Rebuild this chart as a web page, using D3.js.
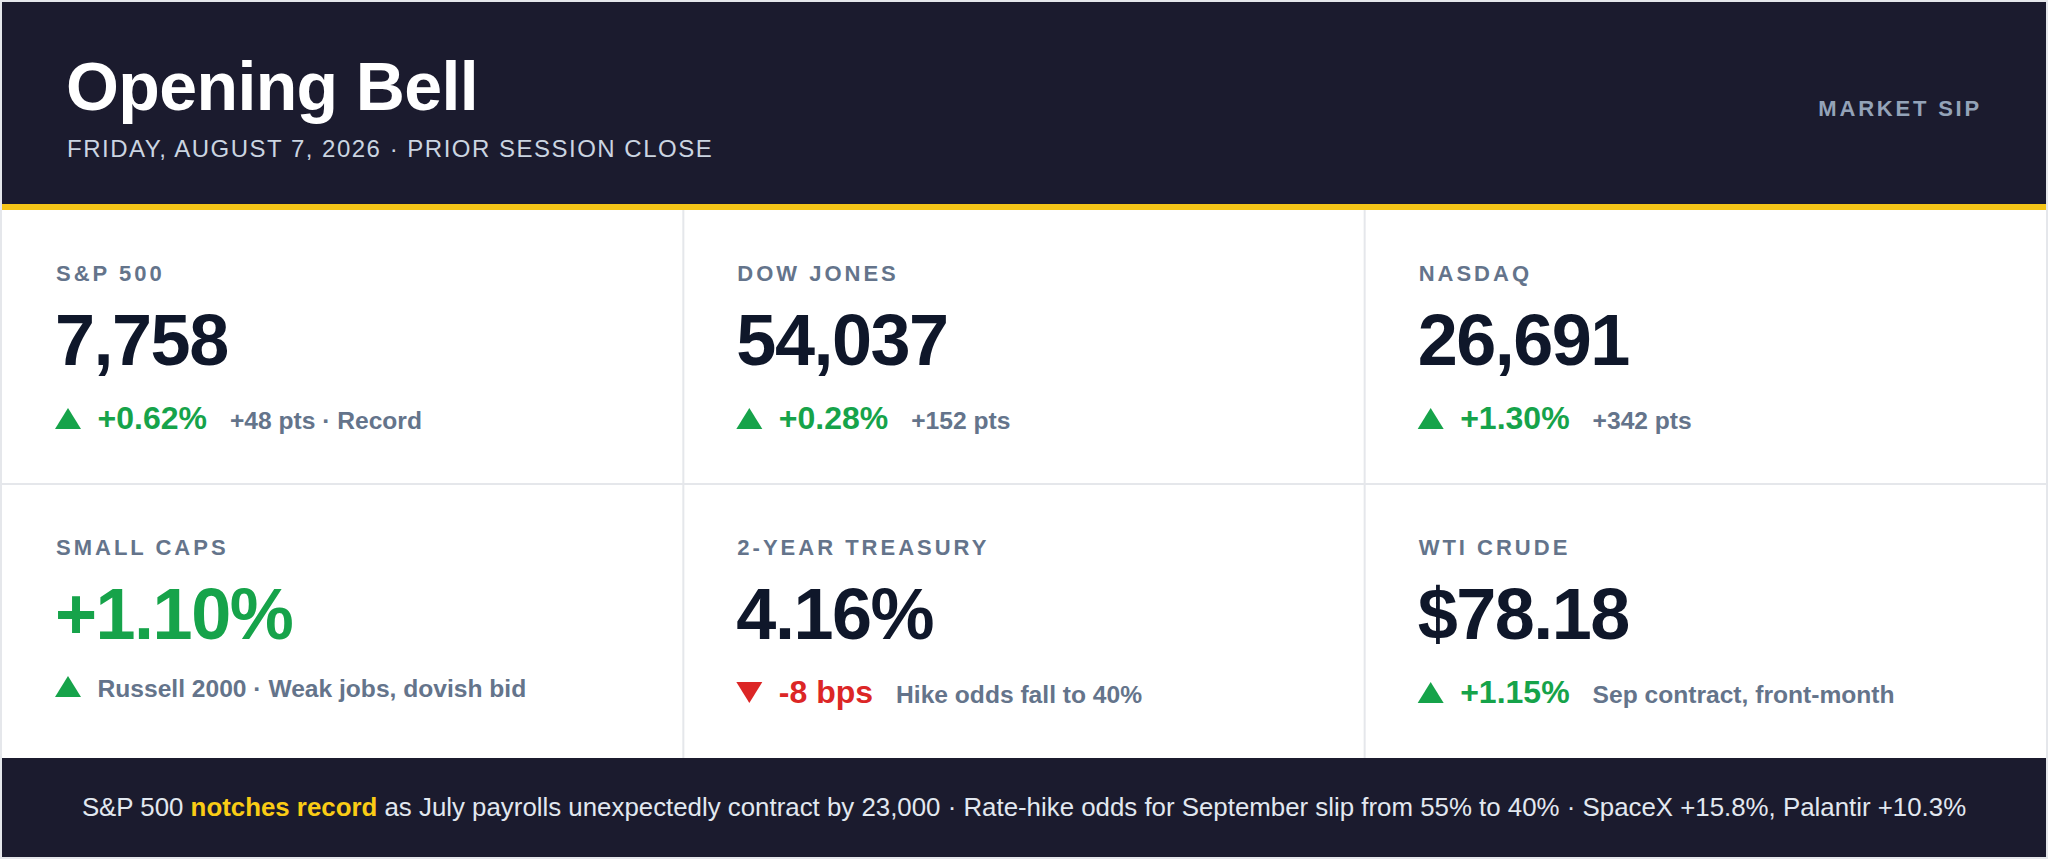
<!DOCTYPE html>
<html>
<head>
<meta charset="utf-8">
<script src="https://cdn.jsdelivr.net/npm/d3@7"></script>
<style>
  html, body { margin: 0; padding: 0; background: #e5e7eb; }
  svg { display: block; }
  text { font-family: "Liberation Sans", Arial, Helvetica, sans-serif; }
</style>
</head>
<body>
<svg id="chart" width="2048" height="859"></svg>
<script>
// ---- data ----
const title = "Opening Bell";
const subtitle = "FRIDAY, AUGUST 7, 2026 · PRIOR SESSION CLOSE";
const brand = "MARKET SIP";
const labels = ["S&P 500", "DOW JONES", "NASDAQ", "SMALL CAPS", "2-YEAR TREASURY", "WTI CRUDE"];
const values = ["7,758", "54,037", "26,691", "+1.10%", "4.16%", "$78.18"];
const valueTones = ["neutral", "neutral", "neutral", "up", "neutral", "neutral"];
const changes = ["+0.62%", "+0.28%", "+1.30%", "", "-8 bps", "+1.15%"];
const directions = ["up", "up", "up", "up", "down", "up"];
const details = ["+48 pts · Record", "+152 pts", "+342 pts", "Russell 2000 · Weak jobs, dovish bid", "Hike odds fall to 40%", "Sep contract, front-month"];
const footerParts = [
  { t: "S&P 500 ", hi: false },
  { t: "notches record", hi: true },
  { t: " as July payrolls unexpectedly contract by 23,000 · Rate-hike odds for September slip from 55% to 40% · SpaceX +15.8%, Palantir +10.3%", hi: false }
];

// ---- style ----
const C = {
  dark: "#1b1b2e", yellow: "#f5c518", grid: "#e5e7eb", white: "#ffffff",
  label: "#64748b", value: "#0f172a", up: "#16a34a", down: "#dc2626",
  sub: "#cbd5e1", brand: "#94a3b8", foot: "#e2e8f0", footHi: "#facc15"
};
const card = { x0: 2, x1: 2046, y0: 2, y1: 857 };
const headerBottom = 204, stripe = 6, footerTop = 758;
const gridTop = headerBottom + stripe;

const svg = d3.select("#chart");

// card background
svg.append("rect").attr("x", card.x0).attr("y", card.y0)
  .attr("width", card.x1 - card.x0).attr("height", card.y1 - card.y0).attr("fill", C.white);

// header
svg.append("rect").attr("x", card.x0).attr("y", card.y0)
  .attr("width", card.x1 - card.x0).attr("height", headerBottom - card.y0).attr("fill", C.dark);
svg.append("rect").attr("x", card.x0).attr("y", headerBottom)
  .attr("width", card.x1 - card.x0).attr("height", stripe).attr("fill", C.yellow);

svg.append("text").attr("x", 66).attr("y", 110)
  .attr("font-size", 68).attr("font-weight", 700).attr("fill", "#ffffff")
  .attr("letter-spacing", -0.6).text(title);
svg.append("text").attr("x", 67).attr("y", 157)
  .attr("font-size", 24).attr("fill", C.sub).attr("letter-spacing", 1.5).text(subtitle);
svg.append("text").attr("x", 1982).attr("y", 116).attr("text-anchor", "end")
  .attr("font-size", 22).attr("font-weight", 700).attr("fill", C.brand)
  .attr("letter-spacing", 2.8).text(brand);

// grid scales
const cols = [0, 1, 2], rows = [0, 1];
const x = d3.scaleBand().domain(cols).range([card.x0, card.x1]);
const y = d3.scaleBand().domain(rows).range([gridTop, footerTop]);

// dividers
svg.append("g").selectAll("line").data(cols.slice(1)).join("line")
  .attr("x1", d => x(d)).attr("x2", d => x(d))
  .attr("y1", gridTop).attr("y2", footerTop)
  .attr("stroke", C.grid).attr("stroke-width", 2);
svg.append("line").attr("x1", card.x0).attr("x2", card.x1)
  .attr("y1", y(1)).attr("y2", y(1)).attr("stroke", C.grid).attr("stroke-width", 2);

// cells
const cells = labels.map((l, i) => ({
  label: l, value: values[i], tone: valueTones[i], change: changes[i],
  dir: directions[i], detail: details[i], col: i % 3, row: Math.floor(i / 3)
}));

const padL = 53;
const g = svg.append("g").selectAll("g").data(cells).join("g")
  .attr("transform", d => `translate(${x(d.col) + padL},${y(d.row)})`);

g.append("text").attr("x", 1).attr("y", 71)
  .attr("font-size", 22).attr("font-weight", 700).attr("fill", C.label)
  .attr("letter-spacing", 3).text(d => d.label);

g.append("text").attr("x", 0).attr("y", 155)
  .attr("font-size", 72).attr("font-weight", 700)
  .attr("fill", d => d.tone === "up" ? C.up : d.tone === "down" ? C.down : C.value)
  .attr("letter-spacing", -1.5).text(d => d.value);

// change row
const triW = 26, triH = 21;
g.each(function (d) {
  const sel = d3.select(this);
  const base = d.change ? 219 : 213;
  const col = d.dir === "up" ? C.up : C.down;
  const tri = d.dir === "up"
    ? [[0, base], [triW, base], [triW / 2, base - triH]]
    : [[0, base - triH], [triW, base - triH], [triW / 2, base]];
  sel.append("path").attr("d", d3.line()(tri) + "Z").attr("fill", col);
  let cx = triW + 16.5;
  if (d.change) {
    const t = sel.append("text").attr("x", cx).attr("y", base)
      .attr("font-size", 32).attr("font-weight", 700).attr("fill", col).text(d.change);
    cx += t.node().getComputedTextLength() + 23;
  }
  sel.append("text").attr("x", cx).attr("y", base)
    .attr("font-size", 24.6).attr("font-weight", 700).attr("fill", C.label).text(d.detail);
});

// footer
svg.append("rect").attr("x", card.x0).attr("y", footerTop)
  .attr("width", card.x1 - card.x0).attr("height", card.y1 - footerTop).attr("fill", C.dark);
const ft = svg.append("text").attr("x", (card.x0 + card.x1) / 2).attr("y", 816)
  .attr("text-anchor", "middle").attr("font-size", 25.85).attr("fill", C.foot);
ft.selectAll("tspan").data(footerParts).join("tspan")
  .attr("font-weight", d => d.hi ? 700 : 400)
  .attr("fill", d => d.hi ? C.footHi : C.foot)
  .text(d => d.t);
</script>
</body>
</html>
